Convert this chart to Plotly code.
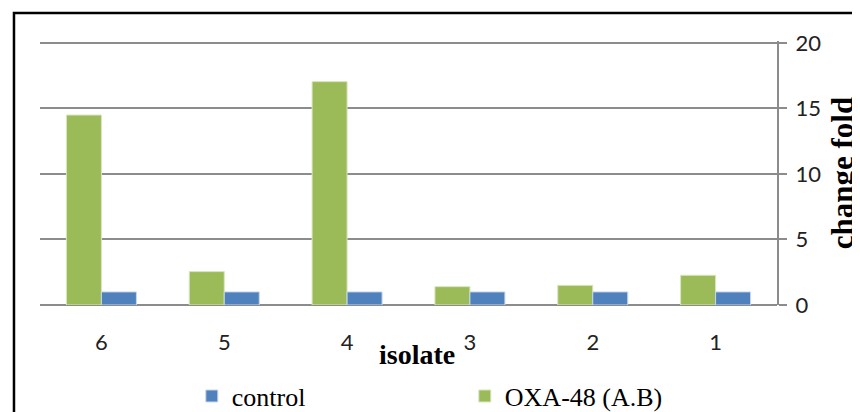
import plotly.graph_objects as go

isolates = ["6", "5", "4", "3", "2", "1"]
oxa48_ab = [14.5, 2.55, 17.05, 1.4, 1.5, 2.27]
control = [1, 1, 1, 1, 1, 1]
y_ticks = [0, 5, 10, 15, 20]

GREEN = "#9BBB59"
BLUE = "#4F81BD"
GRID = "#8C8C8C"
SERIF = "Liberation Serif, Times New Roman, serif"
SANS = "Lato, Carlito, Calibri, sans-serif"

fig = go.Figure()
fig.add_trace(go.Bar(x=isolates, y=oxa48_ab, name="OXA-48 (A.B)",
                     marker=dict(color=GREEN, line=dict(color="#D8E6BE", width=1))))
fig.add_trace(go.Bar(x=isolates, y=control, name="control",
                     marker=dict(color=BLUE, line=dict(color="#C9D7EA", width=1))))

fig.update_layout(
    width=852, height=404,
    margin=dict(l=32, r=83, t=33, b=107, autoexpand=False),
    paper_bgcolor="white", plot_bgcolor="white",
    barmode="group", bargap=0.43, bargroupgap=0,
    showlegend=True,
    legend=dict(orientation="h", traceorder="reversed",
                x=0.206, xanchor="left", y=-0.345, yanchor="middle",
                entrywidth=228, entrywidthmode="pixels",
                font=dict(family=SERIF, size=26, color="black"),
                bgcolor="rgba(0,0,0,0)"),
    xaxis=dict(type="category", categoryorder="array", categoryarray=isolates,
               showgrid=False, showline=False, ticks="", zeroline=False,
               automargin=False,
               tickfont=dict(family=SANS, size=22, color="#222"),
               ticklabelstandoff=22),
    yaxis=dict(side="right", range=[0, 20.15], tickvals=y_ticks,
               automargin=False,
               showgrid=True, gridcolor=GRID, gridwidth=2,
               showline=True, linecolor=GRID, linewidth=2,
               ticks="outside", ticklen=8, tickcolor=GRID, tickwidth=2,
               zeroline=True, zerolinecolor=GRID, zerolinewidth=2,
               tickfont=dict(family=SANS, size=22, color="#222"),
               ticklabelstandoff=4,
               title=dict(text="change fold", standoff=12,
                          font=dict(family=SERIF, size=31, color="black", weight="bold"))),
    annotations=[dict(text="isolate", xref="paper", yref="paper",
                      x=0.5115, y=-0.189, xanchor="center", yanchor="middle",
                      showarrow=False,
                      font=dict(family=SERIF, size=28, color="black", weight="bold"))],
    shapes=[dict(type="rect", xref="paper", yref="paper",
                 x0=-0.0353, x1=1.13, y0=-0.5, y1=1.106,
                 line=dict(color="black", width=2.5), fillcolor="rgba(0,0,0,0)",
                 layer="below")],
)

fig.write_html("out.html")
